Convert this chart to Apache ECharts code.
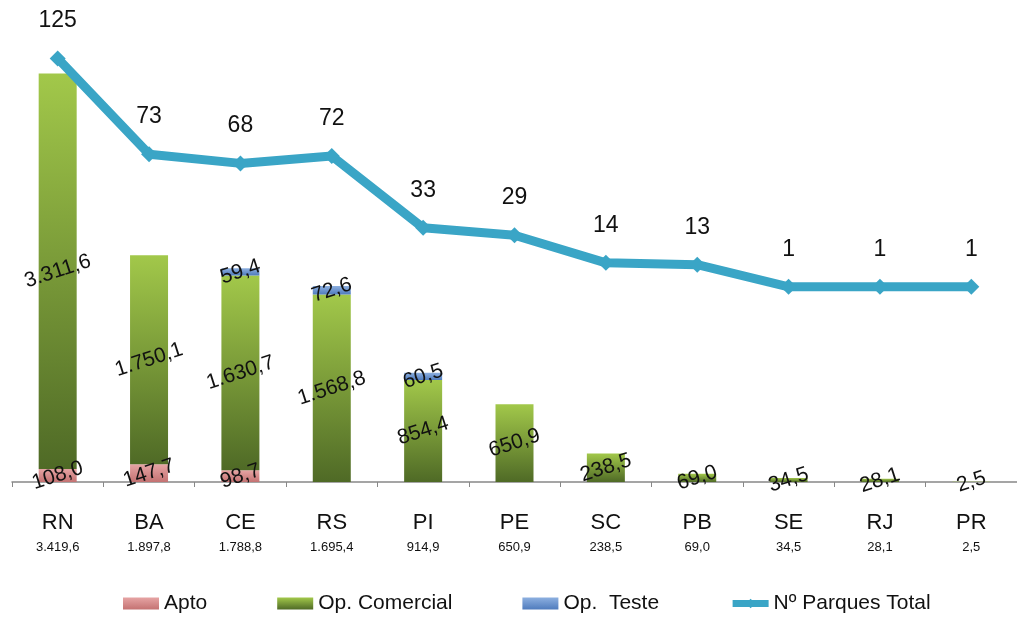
<!DOCTYPE html>
<html><head><meta charset="utf-8">
<script src="https://cdn.jsdelivr.net/npm/echarts@6/dist/echarts.min.js"></script>
<style>html,body{margin:0;padding:0;background:#fff}#c{width:1017px;height:619px}</style>
</head><body><div id="c"></div>
<script>
const categories = ['RN','BA','CE','RS','PI','PE','SC','PB','SE','RJ','PR'];
const totalLabels = ['3.419,6','1.897,8','1.788,8','1.695,4','914,9','650,9','238,5','69,0','34,5','28,1','2,5'];
const apto = [108.0,147.7,98.7,null,null,null,null,null,null,null,null];
const opComercial = [3311.6,1750.1,1630.7,1568.8,854.4,650.9,238.5,69.0,34.5,28.1,2.5];
const opTeste = [null,null,59.4,72.6,60.5,null,null,null,null,null,null];
const parques = [125,73,68,72,33,29,14,13,1,1,1];

const FONT = '"Liberation Sans",Arial,sans-serif';
const fmt = v => {
  const s = v.toFixed(1).split('.');
  return s[0].replace(/\B(?=(\d{3})+(?!\d))/g,'.') + ',' + s[1];
};
const barLabel = {
  show: true, position: 'inside', rotate: 18, fontSize: 21, color: '#111',
  fontFamily: FONT, formatter: p => p.value == null ? '' : fmt(p.value)
};
const chart = echarts.init(document.getElementById('c'));
chart.setOption({
  animation: false,
  textStyle: {fontFamily: FONT},
  grid: {left: 12, width: 1008, top: 40, bottom: 137},
  legend: {
    bottom: 0, left: 118, itemWidth: 36, itemHeight: 12, itemGap: 70,
    textStyle: {fontSize: 21, color: '#111', fontFamily: FONT},
    data: [
      {name: 'Apto', icon: 'rect'},
      {name: 'Op. Comercial', icon: 'rect'},
      {name: 'Op.  Teste', icon: 'rect'},
      {name: 'Nº Parques Total', itemStyle: {color: '#3aa5c6'}, lineStyle: {width: 7, color: '#3aa5c6'}}
    ]
  },
  xAxis: {
    type: 'category', data: categories,
    axisLine: {lineStyle: {color: '#888', width: 1.5}},
    axisTick: {show: true, length: 5, lineStyle: {color: '#888'}},
    axisLabel: {
      margin: 27, interval: 0,
      formatter: (v, i) => '{a|' + v + '}\n{b|' + totalLabels[i] + '}',
      rich: {
        a: {fontSize: 22, color: '#111', fontFamily: FONT, lineHeight: 28},
        b: {fontSize: 13, color: '#111', fontFamily: FONT, lineHeight: 20}
      }
    }
  },
  yAxis: [
    {type: 'value', min: 0, max: 3700, show: false, splitLine: {show: false}},
    {type: 'value', min: -105, max: 135, show: false, splitLine: {show: false}}
  ],
  series: [
    {name: 'Apto', type: 'bar', stack: 't', barWidth: 38, data: apto, label: barLabel,
     itemStyle: {color: new echarts.graphic.LinearGradient(0,0,0,1,[{offset:0,color:'#e6a4a4'},{offset:1,color:'#c47272'}])}},
    {name: 'Op. Comercial', type: 'bar', stack: 't', barWidth: 38, data: opComercial, label: barLabel,
     itemStyle: {color: new echarts.graphic.LinearGradient(0,0,0,1,[{offset:0,color:'#a2c84a'},{offset:1,color:'#4f6a26'}])}},
    {name: 'Op.  Teste', type: 'bar', stack: 't', barWidth: 38, data: opTeste, label: barLabel,
     itemStyle: {color: new echarts.graphic.LinearGradient(0,0,0,1,[{offset:0,color:'#8db0e0'},{offset:1,color:'#4f7bbd'}])}},
    {name: 'Nº Parques Total', type: 'line', yAxisIndex: 1, data: parques,
     symbol: 'diamond', symbolSize: 16,
     lineStyle: {color: '#3aa5c6', width: 9},
     itemStyle: {color: '#3aa5c6'},
     label: {show: true, position: 'top', distance: 18, fontSize: 23, color: '#111', fontFamily: FONT}}
  ]
});
</script></body></html>
